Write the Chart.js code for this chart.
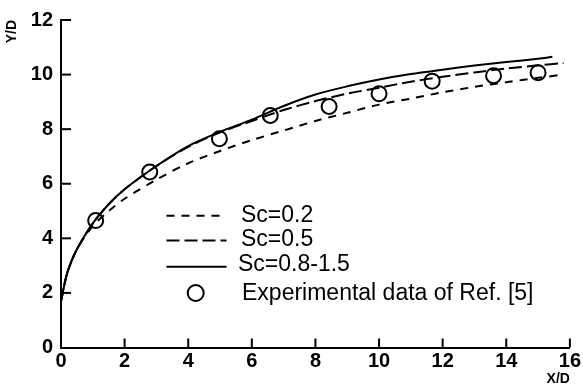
<!DOCTYPE html>
<html><head><meta charset="utf-8">
<script src="https://cdn.jsdelivr.net/npm/chart.js@4/dist/chart.umd.min.js"></script>
<style>html,body{margin:0;padding:0;background:#fff;}canvas{display:block;}</style>
</head><body>
<canvas id="c" width="583" height="386"></canvas>
<script>
// ---- data ----
const curveX   = [0, 0.2, 0.5, 1, 1.5, 2, 3, 4, 5, 6, 7, 8, 9, 10, 11, 12, 13, 14, 15, 15.8];
const sc02Y    = [1.7, 2.75, 3.6, 4.45, 5.0, 5.45, 6.15, 6.75, 7.2, 7.6, 7.95, 8.3, 8.6, 8.9, 9.12, 9.35, 9.55, 9.72, 9.88, 10.0];
const sc05Y    = [1.7, 2.75, 3.6, 4.55, 5.25, 5.8, 6.65, 7.35, 7.88, 8.3, 8.7, 9.03, 9.3, 9.52, 9.74, 9.92, 10.08, 10.22, 10.34, 10.42];
const solidX   = [0, 0.2, 0.5, 1, 1.5, 2, 3, 4, 5, 6, 7, 8, 9, 10, 11, 12, 13, 14, 15, 15.45];
const solidY   = [1.7, 2.75, 3.6, 4.55, 5.25, 5.8, 6.65, 7.38, 7.9, 8.35, 8.85, 9.27, 9.57, 9.82, 10.02, 10.18, 10.33, 10.46, 10.58, 10.65];
const expX     = [1.09, 2.79, 4.98, 6.58, 8.43, 10.0, 11.67, 13.6, 15.0];
const expY     = [4.65, 6.43, 7.65, 8.50, 8.83, 9.30, 9.76, 9.96, 10.07];
const xTicks   = [0, 2, 4, 6, 8, 10, 12, 14, 16];
const yTicks   = [0, 2, 4, 6, 8, 10, 12];
const seriesLabels = ['Sc=0.2', 'Sc=0.5', 'Sc=0.8-1.5', 'Experimental data of Ref. [5]'];
const xTitle = 'X/D';
const yTitle = 'Y/D';

const pts = (xs, ys) => xs.map((x, i) => ({x: x, y: ys[i]}));
const FONT = '"Liberation Sans", Arial, Helvetica, sans-serif';

const innerTicks = {
  id: 'innerTicks',
  afterDraw(chart) {
    const {ctx, chartArea: a} = chart;
    const xs = chart.scales.x, ys = chart.scales.y;
    ctx.save();
    ctx.strokeStyle = '#000'; ctx.lineWidth = 2; ctx.setLineDash([]);
    xs.ticks.forEach(t => {
      if (t.value === 0) return;
      const p = xs.getPixelForValue(t.value);
      ctx.beginPath(); ctx.moveTo(p, a.bottom); ctx.lineTo(p, a.bottom - 9); ctx.stroke();
    });
    ys.ticks.forEach(t => {
      if (t.value === 0) return;
      const p = ys.getPixelForValue(t.value);
      ctx.beginPath(); ctx.moveTo(a.left, p); ctx.lineTo(a.left + 10, p); ctx.stroke();
    });
    ctx.restore();
  }
};

const innerLegend = {
  id: 'innerLegend',
  afterDraw(chart) {
    const ctx = chart.ctx;
    const rows = [
      {ds: 0, ly: 215.7, ty: 216, tx: 241},
      {ds: 1, ly: 240.5, ty: 240, tx: 241},
      {ds: 2, ly: 266.7, ty: 265, tx: 238},
      {ds: 3, ly: 293, ty: 294, tx: 242}
    ];
    ctx.save();
    ctx.font = '23px ' + FONT;
    ctx.fillStyle = '#000'; ctx.strokeStyle = '#000';
    ctx.textBaseline = 'middle'; ctx.textAlign = 'left';
    rows.forEach(r => {
      const ds = chart.data.datasets[r.ds];
      if (ds.showLine === false) {
        ctx.setLineDash([]); ctx.lineWidth = 2;
        ctx.beginPath(); ctx.arc(195.7, r.ly, 8, 0, Math.PI * 2); ctx.stroke();
      } else {
        ctx.setLineDash(ds.borderDash || []); ctx.lineWidth = 2;
        ctx.beginPath(); ctx.moveTo(166.5, r.ly); ctx.lineTo(226.5, r.ly); ctx.stroke();
      }
      ctx.setLineDash([]);
      ctx.fillText(ds.label, r.tx, r.ty);
    });
    ctx.restore();
  }
};

new Chart(document.getElementById('c'), {
  type: 'line',
  data: {
    datasets: [
      {label: seriesLabels[0], data: pts(curveX, sc02Y), borderColor: '#000', borderWidth: 2, borderDash: [8, 7], pointRadius: 0, tension: 0.3, fill: false},
      {label: seriesLabels[1], data: pts(curveX, sc05Y), borderColor: '#000', borderWidth: 2, borderDash: [13, 5], pointRadius: 0, tension: 0.3, fill: false},
      {label: seriesLabels[2], data: pts(solidX, solidY), borderColor: '#000', borderWidth: 2, pointRadius: 0, tension: 0.3, fill: false},
      {label: seriesLabels[3], data: pts(expX, expY), showLine: false, pointStyle: 'circle', pointRadius: 7.5, pointBorderWidth: 2, pointBorderColor: '#000', pointBackgroundColor: 'rgba(0,0,0,0)', borderColor: '#000'}
    ]
  },
  options: {
    responsive: false,
    animation: false,
    devicePixelRatio: 1,
    layout: {padding: {top: 18.5, right: 12, left: 0, bottom: 0}},
    plugins: {legend: {display: false}, tooltip: {enabled: false}},
    scales: {
      x: {
        type: 'linear', min: 0, max: 16,
        afterBuildTicks: s => { s.ticks = xTicks.map(v => ({value: v})); },
        afterFit: s => { s.height = 38.5; },
        grid: {display: false, drawTicks: false},
        border: {display: true, color: '#000', width: 2},
        ticks: {color: '#000', font: {family: FONT, size: 20, weight: 'bold'}, padding: 2, maxRotation: 0, autoSkip: false},
        title: {display: true, text: xTitle, align: 'end', color: '#000', font: {family: FONT, size: 14, weight: 'bold', lineHeight: 1}, padding: {top: 0, bottom: 0}}
      },
      y: {
        type: 'linear', min: 0, max: 12,
        afterBuildTicks: s => { s.ticks = yTicks.map(v => ({value: v})); },
        afterFit: s => { s.width = 61; },
        grid: {display: false, drawTicks: false},
        border: {display: true, color: '#000', width: 2},
        ticks: {color: '#000', font: {family: FONT, size: 20, weight: 'bold'}, padding: 8, autoSkip: false},
        title: {display: true, text: yTitle, align: 'end', color: '#000', font: {family: FONT, size: 14, weight: 'bold', lineHeight: 1}, padding: {top: 5, bottom: 0}}
      }
    }
  },
  plugins: [innerTicks, innerLegend]
});
</script>
</body></html>
